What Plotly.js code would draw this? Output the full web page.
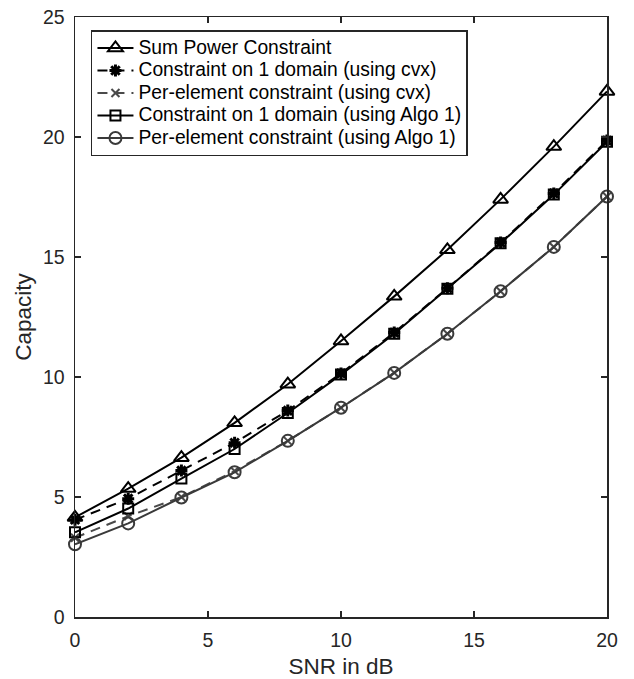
<!DOCTYPE html>
<html>
<head>
<meta charset="utf-8">
<script src="https://cdn.plot.ly/plotly-3.0.1.min.js"></script>
<style>html,body{margin:0;padding:0;background:#fff;}#chart{width:634px;height:679px;}</style>
</head>
<body>
<div id="chart"></div>
<script>
const snr = [0, 2, 4, 6, 8, 10, 12, 14, 16, 18, 20];
const sumPower = [4.15, 5.35, 6.64, 8.09, 9.7, 11.5, 13.36, 15.3, 17.4, 19.6, 21.9];
const oneDomainCvx = [4.05, 4.93, 6.1, 7.26, 8.6, 10.15, 11.85, 13.7, 15.6, 17.65, 19.85];
const perElemCvx = [3.3, 4.2, 5.0, 6.08, 7.34, 8.72, 10.18, 11.8, 13.57, 15.42, 17.52];
const oneDomainAlgo = [3.53, 4.52, 5.77, 7.0, 8.5, 10.1, 11.8, 13.68, 15.57, 17.6, 19.8];
const perElemAlgo = [3.03, 3.9, 4.98, 6.03, 7.34, 8.72, 10.17, 11.8, 13.57, 15.42, 17.52];
const names = [
  "Sum Power Constraint",
  "Constraint on 1 domain (using cvx)",
  "Per-element constraint (using cvx)",
  "Constraint on 1 domain (using Algo 1)",
  "Per-element constraint (using Algo 1)"
];

const FONT = "Liberation Sans, Arial, Helvetica, sans-serif";
const lbl = s => '<span style="font-size:19.3px">' + s + '</span>';
const traces = [
  {x: snr, y: sumPower, name: lbl(names[0]), mode: "lines+markers", cliponaxis: false,
   line: {color: "#000000", width: 2},
   marker: {symbol: "triangle-up-open", size: 13, color: "#000000", line: {width: 2, color: "#000000"}}},
  {x: snr, y: oneDomainCvx, name: lbl(names[1]), mode: "lines+markers", cliponaxis: false,
   line: {color: "#000000", width: 2, dash: "10px,7px"},
   marker: {symbol: "asterisk-open", size: 10, color: "#000000", line: {width: 3, color: "#000000"}}},
  {x: snr, y: perElemCvx, name: lbl(names[2]), mode: "lines+markers", cliponaxis: false,
   line: {color: "#4a4a4a", width: 2, dash: "10px,7px"},
   marker: {symbol: "x-thin-open", size: 8, color: "#4a4a4a", line: {width: 2, color: "#4a4a4a"}}},
  {x: snr, y: oneDomainAlgo, name: lbl(names[3]), mode: "lines+markers", cliponaxis: false,
   line: {color: "#000000", width: 2},
   marker: {symbol: "square-open", size: 10, color: "#000000", line: {width: 2, color: "#000000"}}},
  {x: snr, y: perElemAlgo, name: lbl(names[4]), mode: "lines+markers", cliponaxis: false,
   line: {color: "#3a3a3a", width: 2},
   marker: {symbol: "circle-open", size: 12, color: "#3a3a3a", line: {width: 2, color: "#3a3a3a"}}}
];

const axisCommon = {
  showgrid: false, zeroline: false, showline: true, mirror: "ticks",
  linecolor: "#262626", linewidth: 1.5, ticks: "inside", ticklen: 6, tickwidth: 1.5,
  tickcolor: "#262626", tickfont: {family: FONT, size: 19.5, color: "#262626"}
};

const layout = {
  width: 634, height: 679,
  margin: {l: 75, r: 27, t: 17, b: 62},
  paper_bgcolor: "#ffffff", plot_bgcolor: "#ffffff",
  font: {family: FONT, color: "#262626"},
  showlegend: true,
  xaxis: Object.assign({}, axisCommon, {
    range: [0, 20], tickvals: [0, 5, 10, 15, 20], ticklabelstandoff: 5,
    title: {text: "SNR in dB", font: {family: FONT, size: 22.5, color: "#262626"}, standoff: 15}
  }),
  yaxis: Object.assign({}, axisCommon, {
    range: [0, 25], tickvals: [0, 5, 10, 15, 20, 25], ticklabelstandoff: 5,
    title: {text: "Capacity", font: {family: FONT, size: 22.5, color: "#262626"}, standoff: 5}
  }),
  legend: {
    x: 0.03, y: 0.978, xanchor: "left", yanchor: "top",
    bgcolor: "#ffffff", bordercolor: "#262626", borderwidth: 1.5,
    font: {family: FONT, size: 15, color: "#000000"},
    itemwidth: 36, tracegroupgap: 0
  }
};

Plotly.newPlot("chart", traces, layout, {displayModeBar: false, staticPlot: true});
</script>
</body>
</html>
